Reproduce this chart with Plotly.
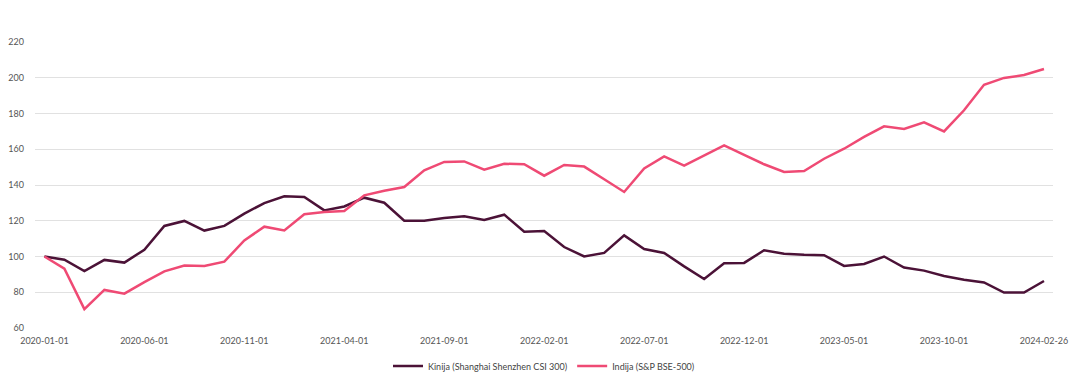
import plotly.graph_objects as go

dates = [
    "2020-01-01","2020-02-01","2020-03-01","2020-04-01","2020-05-01","2020-06-01","2020-07-01","2020-08-01",
    "2020-09-01","2020-10-01","2020-11-01","2020-12-01","2021-01-01","2021-02-01","2021-03-01","2021-04-01",
    "2021-05-01","2021-06-01","2021-07-01","2021-08-01","2021-09-01","2021-10-01","2021-11-01","2021-12-01",
    "2022-01-01","2022-02-01","2022-03-01","2022-04-01","2022-05-01","2022-06-01","2022-07-01","2022-08-01",
    "2022-09-01","2022-10-01","2022-11-01","2022-12-01","2023-01-01","2023-02-01","2023-03-01","2023-04-01",
    "2023-05-01","2023-06-01","2023-07-01","2023-08-01","2023-09-01","2023-10-01","2023-11-01","2023-12-01",
    "2024-01-01","2024-02-01","2024-02-26",
]

china = [100, 98.2, 91.9, 98.1, 96.6, 103.8, 117.1, 119.9, 114.5, 117.1,
         124.0, 129.9, 133.7, 133.3, 125.8, 128.0, 132.9, 130.1, 120.0, 120.0,
         121.5, 122.5, 120.4, 123.4, 113.9, 114.3, 105.3, 100.0, 102.0, 111.8,
         104.2, 102.0, 94.5, 87.4, 96.2, 96.4, 103.5, 101.6, 101.0, 100.7,
         94.7, 95.8, 100.0, 93.8, 92.1, 89.1, 87.0, 85.5, 79.8, 79.8, 86.3]

india = [100, 93.2, 70.6, 81.3, 79.2, 85.7, 91.7, 95.0, 94.7, 97.1,
         109.0, 116.7, 114.6, 123.6, 124.9, 125.5, 134.2, 136.8, 138.9, 148.2,
         152.9, 153.2, 148.6, 151.9, 151.6, 145.2, 151.2, 150.3, 143.2, 136.1,
         149.3, 156.0, 150.8, 156.6, 162.2, 156.8, 151.6, 147.3, 147.8, 154.7,
         160.3, 166.9, 172.8, 171.3, 175.1, 170.0, 181.8, 196.1, 199.9, 201.5, 204.9]

tick_labels = ["2020-01-01", "2020-06-01", "2020-11-01", "2021-04-01", "2021-09-01",
               "2022-02-01", "2022-07-01", "2022-12-01", "2023-05-01", "2023-10-01", "2024-02-26"]
y_ticks = [60, 80, 100, 120, 140, 160, 180, 200, 220]

names = ["Kinija (Shanghai Shenzhen CSI 300)", "Indija (S&P BSE-500)"]
colors = ["#4b1237", "#ef4a74"]

idx = list(range(len(dates)))
tick_idx = [dates.index(t) for t in tick_labels]

fig = go.Figure()
for name, vals, col in zip(names, [china, india], colors):
    fig.add_trace(go.Scatter(
        x=idx, y=vals, mode="lines", name=name,
        customdata=dates,
        line=dict(color=col, width=2.5),
        hovertemplate="%{customdata}: %{y}<extra>" + name + "</extra>",
    ))

font_family = "Lato, 'Open Sans', sans-serif"
fig.update_layout(
    width=1080, height=384,
    margin=dict(l=27, r=35, t=34, b=64, autoexpand=False),
    paper_bgcolor="white", plot_bgcolor="white",
    font=dict(family=font_family, size=9, color="#555555"),
    showlegend=True,
    legend=dict(orientation="h", x=0.5, xanchor="center", y=-0.133, yanchor="middle",
                font=dict(size=9, color="#444444"), itemwidth=30, tracegroupgap=0),
    xaxis=dict(
        range=[-0.47, 50.45], automargin=False,
        tickmode="array", tickvals=tick_idx, ticktext=tick_labels,
        showgrid=False, zeroline=False, showline=False, ticks="",
        ticklabelstandoff=6,
        tickfont=dict(size=9, color="#555555"),
    ),
    yaxis=dict(
        range=[60, 220], tickmode="array", tickvals=y_ticks, automargin=False,
        showgrid=True, gridcolor="#e1e1e1", gridwidth=1,
        zeroline=False, showline=False, ticks="",
        ticklabelstandoff=10,
        tickfont=dict(size=9, color="#555555"),
    ),
)

fig.write_html("out.html")
